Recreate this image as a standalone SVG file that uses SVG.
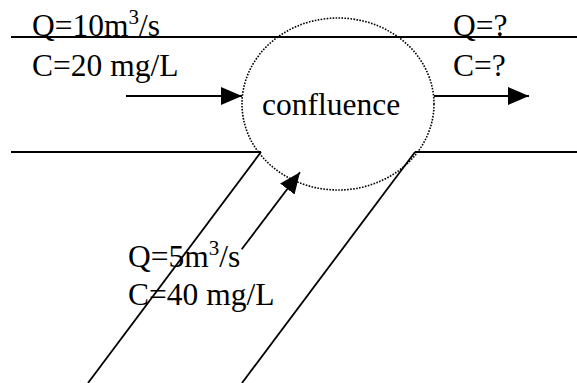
<svg xmlns="http://www.w3.org/2000/svg" width="577" height="383" viewBox="0 0 577 383">
<style>
.t{font-family:"Liberation Serif","Times New Roman",serif;font-size:31.5px;fill:#000}
.sup{font-size:21px}
.ln{stroke:#000;stroke-width:1.8;fill:none}
.dot{stroke:#000;stroke-width:1.6;fill:none;stroke-dasharray:1.6 1.4}
</style>
<defs>
<marker id="ah" markerUnits="userSpaceOnUse" markerWidth="22" markerHeight="20" refX="21" refY="9" orient="auto">
<path d="M0,0 L21,9 L0,18 z" fill="#000"/>
</marker>
</defs>
<rect width="577" height="383" fill="#fff"/>
<g id="riverbanks">
<line class="ln" x1="11" y1="37" x2="577" y2="37"/>
<line class="ln" x1="11" y1="152" x2="261" y2="152"/>
<line class="ln" x1="415" y1="152" x2="577" y2="152"/>
<line class="ln" x1="261" y1="152" x2="88" y2="383"/>
<line class="ln" x1="415" y1="152" x2="242" y2="383"/>
</g>
<g id="confluence">
<ellipse class="dot" cx="338" cy="104" rx="96" ry="86"/>
<text class="t" x="262" y="115">confluence</text>
</g>
<g id="main-inflow">
<text class="t" x="32" y="36">Q=10m<tspan class="sup" dy="-12">3</tspan><tspan dy="12">/s</tspan></text>
<text class="t" x="32" y="76">C=20 mg/L</text>
</g>
<g id="outflow">
<text class="t" x="453" y="36">Q=?</text>
<text class="t" x="453" y="76">C=?</text>
</g>
<g id="tributary">
<text class="t" x="128" y="267">Q=5m<tspan class="sup" dy="-12">3</tspan><tspan dy="12">/s</tspan></text>
<text class="t" x="128" y="305">C=40 mg/L</text>
</g>
<g id="connectors">
<line class="ln" x1="126" y1="96" x2="242" y2="96" marker-end="url(#ah)"/>
<line class="ln" x1="434" y1="96" x2="529" y2="96" marker-end="url(#ah)"/>
<line class="ln" x1="241.7" y1="249.3" x2="300" y2="172.3" marker-end="url(#ah)"/>
</g>
</svg>
